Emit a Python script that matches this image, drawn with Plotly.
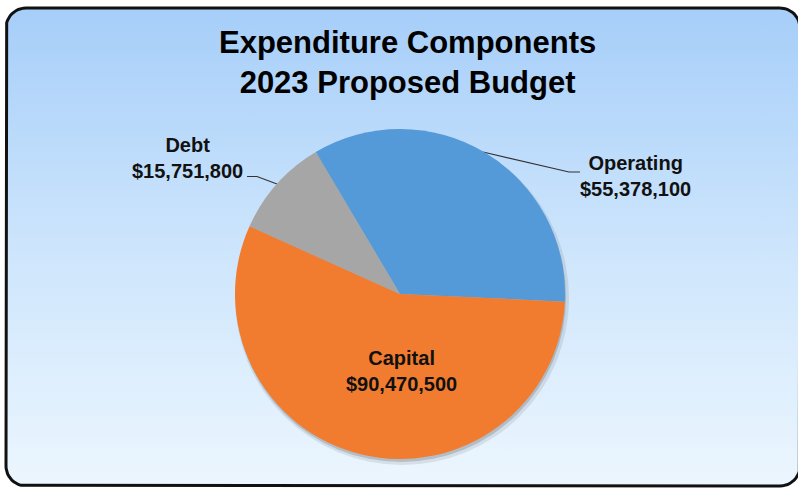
import plotly.graph_objects as go

# Budget components (USD)
categories = ["Operating", "Capital", "Debt"]
amounts = [55378100, 90470500, 15751800]
slice_colors = ["#5499D8", "#F17C2F", "#A6A6A6"]

title_lines = ["Expenditure Components", "2023 Proposed Budget"]

W, H = 798, 488
FONT = "Liberation Sans, Arial, sans-serif"


def px_y(y):
    """Convert a top-down pixel row into the bottom-up axis coordinate."""
    return H - y


def rounded_rect(x0, y0, x1, y1, r, n=12):
    import math
    xs, ys = [], []
    corners = [
        (x1 - r, y0 + r, -90, 0),
        (x1 - r, y1 - r, 0, 90),
        (x0 + r, y1 - r, 90, 180),
        (x0 + r, y0 + r, 180, 270),
    ]
    for cx, cy, a0, a1 in corners:
        for k in range(n + 1):
            a = math.radians(a0 + (a1 - a0) * k / n)
            xs.append(cx + r * math.cos(a))
            ys.append(px_y(cy + r * math.sin(a)))
    xs.append(xs[0])
    ys.append(ys[0])
    return xs, ys


fig = go.Figure()

# Panel background with a vertical blue-to-white gradient and dark border
bx, by = rounded_rect(6, 8, 800, 486, 20)
fig.add_trace(go.Scatter(
    x=bx, y=by, mode="lines", fill="toself",
    line=dict(color="#111111", width=3),
    fillgradient=dict(
        type="vertical",
        colorscale=[[0, "#ECF6FE"], [0.5, "#CDE5FC"], [1, "#A6CEF9"]],
    ),
    hoverinfo="skip", showlegend=False,
))

# Pie geometry (pixels)
cx, cy, rad = 400, 294, 165


def domain_for(dx=0, dy=0, grow=0):
    return dict(
        x=[(cx - rad - grow + dx) / W, (cx + rad + grow + dx) / W],
        y=[1 - (cy + rad + grow + dy) / H, 1 - (cy - rad - grow + dy) / H],
    )


# Soft drop shadow under the pie
for dx, dy, grow, alpha in [(2, 4, 2, 0.10), (1, 3, 0, 0.18)]:
    fig.add_trace(go.Pie(
        values=[1], labels=[""], domain=domain_for(dx, dy, grow),
        marker=dict(colors=[f"rgba(40,40,40,{alpha})"], line=dict(width=0)),
        textinfo="none", hoverinfo="skip", showlegend=False, sort=False,
    ))

fig.add_trace(go.Pie(
    labels=categories, values=amounts, sort=False,
    direction="clockwise", rotation=-30.7,
    domain=domain_for(),
    marker=dict(colors=slice_colors, line=dict(width=0)),
    textinfo="none", showlegend=False,
))


def label_text(name):
    i = categories.index(name)
    return f"{name}<br>${amounts[i]:,}"


label_font = dict(family=FONT, size=20, color="#111111", weight="bold")

# Slice labels
fig.add_annotation(x=187, y=px_y(158), text=label_text("Debt"),
                   showarrow=False, font=label_font, align="center")
fig.add_annotation(x=635, y=px_y(176), text=label_text("Operating"),
                   showarrow=False, font=label_font, align="center")
fig.add_annotation(x=401, y=px_y(371), text=label_text("Capital"),
                   showarrow=False, font=label_font, align="center")

# Leader lines
fig.add_trace(go.Scatter(
    x=[247, 257, 277], y=[px_y(176.5), px_y(176.5), px_y(184)],
    mode="lines", line=dict(color="#333333", width=1.2),
    hoverinfo="skip", showlegend=False,
))
fig.add_trace(go.Scatter(
    x=[483, 569, 580], y=[px_y(152), px_y(172), px_y(172)],
    mode="lines", line=dict(color="#333333", width=1.2),
    hoverinfo="skip", showlegend=False,
))

# Title
fig.add_annotation(x=407, y=px_y(62), text="<br>".join(title_lines),
                   showarrow=False, align="center",
                   font=dict(family=FONT, size=31, color="#000000", weight="bold"))

fig.update_layout(
    width=W, height=H,
    margin=dict(l=0, r=0, t=0, b=0),
    paper_bgcolor="white", plot_bgcolor="rgba(0,0,0,0)",
    xaxis=dict(range=[0, W], visible=False, fixedrange=True),
    yaxis=dict(range=[0, H], visible=False, fixedrange=True),
)

fig.write_html("out.html")
